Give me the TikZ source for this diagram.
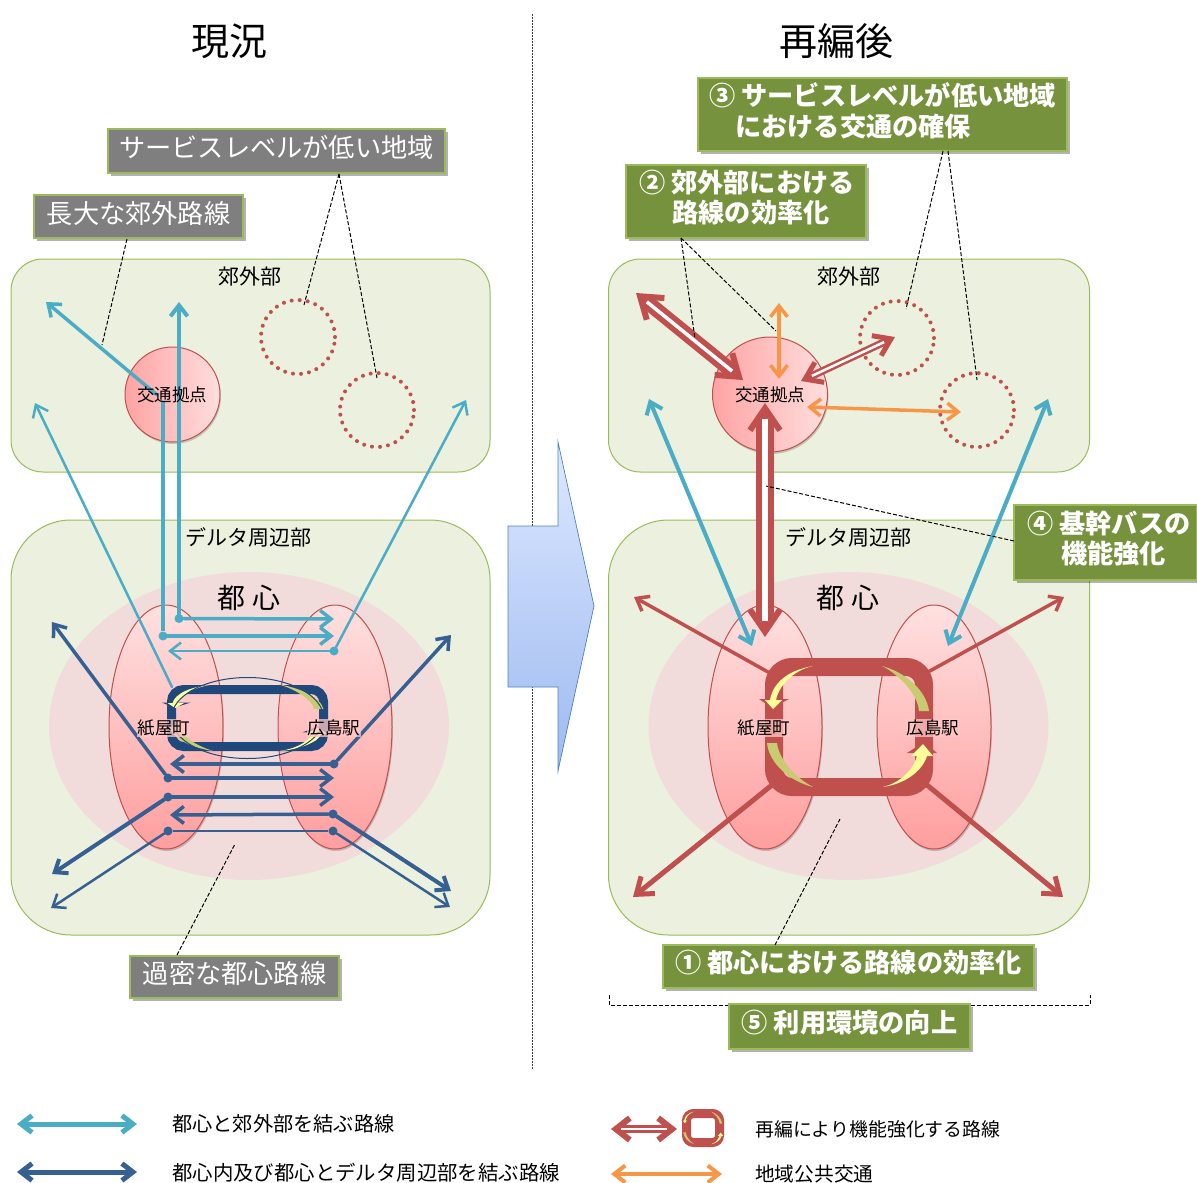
\documentclass[tikz,border=0pt]{standalone}
\usepackage{fontspec}
\setmainfont{Noto Sans CJK JP}
\usetikzlibrary{positioning,arrows.meta,shadows,shapes.geometric}
\definecolor{regionfill}{HTML}{EBF1DE}
\definecolor{regionline}{HTML}{9BBB59}
\definecolor{corefill}{HTML}{F2DCDB}
\definecolor{redline}{HTML}{C0504D}
\definecolor{cyanline}{HTML}{4BACC6}
\definecolor{navyline}{HTML}{376092}
\definecolor{navyloop}{HTML}{1F497D}
\definecolor{orangeline}{HTML}{F79646}
\definecolor{olivebox}{HTML}{76923C}
\definecolor{greybox}{HTML}{7F7F7F}
\definecolor{arcyellow}{HTML}{FFFF99}
\definecolor{arcolive}{HTML}{C9CB70}
\definecolor{bigtop}{HTML}{DDE8FF}
\definecolor{bigbot}{HTML}{9DBAF0}
\definecolor{bigline}{HTML}{4F81BD}
\tikzset{
	softshadow/.style={drop shadow={shadow xshift=2.5pt,shadow yshift=-3pt,fill=black,opacity=0.3}},
	faintshadow/.style={drop shadow={shadow xshift=1pt,shadow yshift=-2pt,fill=black,opacity=0.18}},
	region/.style={draw=regionline,fill=regionfill,line width=1pt,inner sep=0pt},
	station/.style={ellipse,draw=redline,line width=1pt,top color=red!12,bottom color=red!38,minimum width=114pt,minimum height=244pt,inner sep=0pt,faintshadow},
	hub/.style={circle,draw=redline,line width=1pt,left color=red!36,right color=red!13,inner sep=0pt,faintshadow},
	area/.style={circle,draw=redline,line width=4pt,line cap=round,dash pattern=on 0.01pt off 8.05pt,minimum size=74pt,inner sep=0pt},
	greynote/.style={draw=regionline,fill=greybox,line width=1.5pt,text=white,font=\fontsize{26.2}{30}\selectfont,text depth=9pt,inner sep=0pt,softshadow},
	olivenote/.style={draw=regionline,fill=olivebox,line width=1.5pt,text=white,font=\fontsize{26.2}{30.5}\selectfont\bfseries,text depth=10pt,inner sep=0pt,align=center,softshadow},
	stationname/.style={fill=red!22,fill opacity=0.75,text opacity=1,inner sep=1pt,font=\fontsize{17.5}{20}\selectfont},
	place/.style={font=\fontsize{21}{24}\selectfont,inner sep=0pt},
	coretitle/.style={font=\fontsize{28}{30}\selectfont,inner sep=0pt},
	bigtitle/.style={font=\fontsize{38}{42}\selectfont,inner sep=0pt},
	legendtext/.style={anchor=west,inner sep=0pt},
	leader/.style={draw=black,line width=1pt,dash pattern=on 4pt off 2pt},
	bus/.style={-{Straight Barb[length=11pt,width=17pt]},line cap=round},
	busboth/.style={{Straight Barb[length=11pt,width=17pt]}-{Straight Barb[length=11pt,width=17pt]},line cap=round},
	heavybus/.style={-{Straight Barb[length=15pt,width=22pt]},line cap=round},
	twinmain/.style={redline,line width=6pt,{Straight Barb[length=22pt,width=30pt]}-{Straight Barb[length=22pt,width=30pt]}},
	twinbig/.style={redline,line width=6pt,{Straight Barb[length=20pt,width=28pt]}-{Straight Barb[length=20pt,width=28pt]}},
	twinthin/.style={redline,line width=5pt,{Straight Barb[length=16pt,width=22pt]}-{Straight Barb[length=16pt,width=22pt]}},
	twinkey/.style={redline,line width=6pt,{Straight Barb[length=14pt,width=22pt]}-{Straight Barb[length=14pt,width=22pt]}},
	routedot/.style={circle,minimum size=9pt,inner sep=0pt},
	pics/looparcs/.style={code={
		\fill[loophead] (-90,-28) -- (-60,-28) -- (-77,-19) -- cycle;
		\fill[loophead] (58,26) -- (88,26) -- (75,15) -- cycle;
		\fill[arcyellow] (-36,-61) .. controls (-55,-57) and (-70,-42) .. (-73,-27) -- (-67,-27) -- (-76,-18) -- (-84,-27) -- (-79,-27) .. controls (-76,-45) and (-60,-57) .. cycle;
		\fill[arcolive] (33,-61) .. controls (55,-55) and (77,-38) .. (80,-16) -- (70,-16) .. controls (69,-32) and (51,-52) .. cycle;
		\fill[arcolive] (-36,60) .. controls (-60,54) and (-80,36) .. (-82,16) -- (-72,16) .. controls (-70,32) and (-55,50) .. cycle;
		\fill[arcyellow] (34,60) .. controls (50,56) and (64,44) .. (68,29) -- (62,29) -- (74,17) -- (84,29) -- (78,29) .. controls (73,45) and (55,57) .. cycle;
	}},
}
\begin{document}
\begin{tikzpicture}[x=1pt,y=-1pt]
    \useasboundingbox (0,0) rectangle (1197,1183);

    \node[bigtitle] (titlenow) at (229,41) {現況};
    \node[bigtitle] (titleafter) at (836,41) {再編後};
    \coordinate (divtop) at (532,14);
    \coordinate (divbot) at (532,1070);
    \draw[black!75,line width=0.8pt,dash pattern=on 1.5pt off 1.5pt] (divtop) -- (divbot);

    % left side
    \node[region,rounded corners=32pt,minimum width=479pt,minimum height=213pt] (subL) at (250.5,365.5) {};
    \node[region,rounded corners=60pt,minimum width=479pt,minimum height=415pt] (deltaL) at (250.5,727.5) {};
    \node[ellipse,fill=corefill,minimum width=400pt,minimum height=308pt,inner sep=0pt] (coreL) at (249,726) {};
    \node[station] (kamiL) at (166,727) {};
    \node[station] (hiroL) at (335,727) {};
    \node[hub,minimum size=95pt] (hubL) at (172.5,394.5) {};
    \node[area] (areaA) at (298,337) {};
    \node[area] (areaB) at (377,410) {};

    \coordinate (cyanN) at (179,302);
    \coordinate (cyanV) at (163,402);
    \coordinate (cyanNW) at (46,302);
    \coordinate (cyanHub) at (157,395);
    \coordinate (cyanA) at (334,619);
    \coordinate (cyanB) at (334,636);
    \coordinate (cyanC) at (168,651);
    \coordinate (cyanFarL) at (35,403);
    \coordinate (cyanLoop) at (172,687);
    \coordinate (cyanFarR) at (466,400);
    \node[routedot,fill=cyanline] (dotA) at (179,618.5) {};
    \node[routedot,fill=cyanline] (dotB) at (163,636) {};
    \node[routedot,fill=cyanline] (dotC) at (334,651) {};

    \draw[cyanline,line width=3.5pt,bus] (cyanHub) -- (cyanNW);
    \draw[cyanline,line width=4pt,bus] (dotA) -- (cyanN);
    \draw[cyanline,line width=3.5pt,bus] (dotA) -- (cyanA);
    \draw[cyanline,line width=4pt] (cyanV) -- (dotB);
    \draw[cyanline,line width=3.5pt,bus] (dotB) -- (cyanB);
    \draw[cyanline,line width=2.5pt,bus] (dotC) -- (cyanC);
    \draw[cyanline,line width=2.5pt,bus] (dotC) -- (cyanFarR);
    \draw[cyanline,line width=2.5pt,bus] (cyanLoop) -- (cyanFarL);

    \colorlet{loophead}{navyloop}
    \node[draw=navyloop,line width=9pt,rounded corners=12pt,minimum width=152pt,minimum height=57pt,inner sep=0pt] (loopL) at (247.5,718) {};
    \pic[xshift=247.5pt,yshift=-718pt,xscale=0.95,yscale=0.55] {looparcs};
    \node[ellipse,draw=navyloop,line width=1pt,minimum width=152pt,minimum height=81pt,inner sep=0pt] (ringL) at (247.5,718) {};

    \coordinate (navyNW) at (52,622);
    \coordinate (navyNE) at (451,635);
    \coordinate (navyW) at (52,874);
    \coordinate (navySE) at (451,891);
    \coordinate (navyWW) at (51,908);
    \coordinate (navySSE) at (450,907);
    \coordinate (navyBa) at (170,764);
    \coordinate (navyAa) at (334,778);
    \coordinate (navyCa) at (334,797);
    \coordinate (navyDa) at (170,815);
    \node[routedot,fill=navyline] (dotE) at (334,764) {};
    \node[routedot,fill=navyline] (dotF) at (168,778) {};
    \node[routedot,fill=navyline] (dotG) at (168,797) {};
    \node[routedot,fill=navyline] (dotH) at (333,814) {};
    \node[routedot,fill=navyline] (dotI) at (168,831) {};
    \node[routedot,fill=navyline] (dotJ) at (333,831) {};

    \draw[navyline,line width=3.5pt,bus] (dotF) -- (navyNW);
    \draw[navyline,line width=3.5pt,bus] (dotF) -- (navyAa);
    \draw[navyline,line width=3.5pt,bus] (dotE) -- (navyBa);
    \draw[navyline,line width=3.5pt,bus] (dotE) -- (navyNE);
    \draw[navyline,line width=3.5pt,bus] (dotG) -- (navyCa);
    \draw[navyline,line width=4pt,bus] (dotG) -- (navyW);
    \draw[navyline,line width=3.5pt,bus] (dotH) -- (navyDa);
    \draw[navyline,line width=4pt,bus] (dotH) -- (navySE);
    \draw[navyline,line width=2.5pt] (dotI) -- (dotJ);
    \draw[navyline,line width=2.5pt,bus] (dotI) -- (navyWW);
    \draw[navyline,line width=2.5pt,bus] (dotJ) -- (navySSE);

    \node[place] (subNameL) at (249.5,277) {郊外部};
    \node[place] (deltaNameL) at (248.5,537) {デルタ周辺部};
    \node[coretitle] (coreNameL) at (249,598) {都 心};
    \node[stationname] (kamiNameL) at (164,728) {紙屋町};
    \node[stationname] (hiroNameL) at (334,728) {広島駅};
    \node[font=\fontsize{17.5}{20}\selectfont,inner sep=0pt] (hubNameL) at (172,395) {交通拠点};

    \node[greynote,minimum width=337pt,minimum height=44pt] (noteLow) at (276.5,151) {サービスレベルが低い地域};
    \node[greynote,minimum width=209pt,minimum height=43pt] (noteLong) at (138.5,216.5) {長大な郊外路線};
    \node[greynote,minimum width=209pt,minimum height=42pt] (noteDense) at (234.5,977) {過密な都心路線};

    \coordinate (leadA) at (304,305);
    \coordinate (leadB) at (377,378);
    \coordinate (leadC) at (102,345);
    \coordinate (leadD) at (235,844);
    \coordinate (footLow) at (339,174);
    \coordinate (footLong) at (127,239);
    \coordinate (footDense) at (177,955);
    \draw[leader] (footLow) -- (leadA);
    \draw[leader] (footLow) -- (leadB);
    \draw[leader] (footLong) -- (leadC);
    \draw[leader] (footDense) -- (leadD);

    % big arrow
    \path[draw=bigline,line width=0.7pt,top color=bigtop,bottom color=bigbot] (508,526) -- (558,526) -- (558,442) -- (594,606) -- (558,771) -- (558,687) -- (508,687) -- cycle;

    % right side
    \node[region,rounded corners=32pt,minimum width=481pt,minimum height=213pt] (subR) at (849,365.5) {};
    \node[region,rounded corners=60pt,minimum width=481pt,minimum height=415pt] (deltaR) at (849,727.5) {};
    \node[ellipse,fill=corefill,minimum width=400pt,minimum height=308pt,inner sep=0pt] (coreR) at (848.5,726) {};
    \node[station] (kamiR) at (765,727) {};
    \node[station] (hiroR) at (934,727) {};
    \node[hub,minimum size=115pt] (hubR) at (770,394.5) {};
    \node[area] (areaC) at (897,338) {};
    \node[area] (areaD) at (977,410) {};

    \colorlet{loophead}{redline}
    \node[draw=redline,line width=18pt,rounded corners=18pt,minimum width=150pt,minimum height=120pt,inner sep=0pt] (loopR) at (849,727) {};
    \pic[xshift=849pt,yshift=-727pt] {looparcs};

    \coordinate (redNW) at (634,597);
    \coordinate (redNE) at (1064,597);
    \coordinate (redSW) at (633,897);
    \coordinate (redSE) at (1063,897);
    \coordinate (loopNW) at (768,672);
    \coordinate (loopNE) at (928,672);
    \coordinate (loopSW) at (772,785);
    \coordinate (loopSE) at (927,785);
    \draw[redline,line width=3.5pt,bus] (loopNW) -- (redNW);
    \draw[redline,line width=3.5pt,bus] (loopNE) -- (redNE);
    \draw[redline,line width=5pt,heavybus] (loopSW) -- (redSW);
    \draw[redline,line width=5pt,heavybus] (loopSE) -- (redSE);

    \coordinate (mainTop) at (765,403);
    \coordinate (mainBot) at (765,637);
    \coordinate (bigNW) at (636,293);
    \coordinate (bigHub) at (743,380);
    \coordinate (thinNE) at (895,337);
    \coordinate (thinHub) at (801,381);
    \draw[twinmain] (mainTop) -- (mainBot);
    \draw[redline,double=white,line width=6pt,double distance=6pt,shorten <=16pt,shorten >=16pt] (mainTop) -- (mainBot);
    \draw[twinbig] (bigNW) -- (bigHub);
    \draw[redline,double=white,line width=5.5pt,double distance=3.5pt,shorten <=14pt,shorten >=14pt] (bigNW) -- (bigHub);
    \draw[twinthin] (thinHub) -- (thinNE);
    \draw[redline,double=white,line width=2.5pt,double distance=2.5pt,shorten <=12pt,shorten >=12pt] (thinHub) -- (thinNE);

    \coordinate (orangeTop) at (779,303);
    \coordinate (orangeBot) at (779,379);
    \coordinate (orangeHub) at (807,407);
    \coordinate (orangeFar) at (961,412);
    \draw[orangeline,line width=3.5pt,busboth] (orangeTop) -- (orangeBot);
    \draw[orangeline,line width=3.5pt,busboth] (orangeHub) -- (orangeFar);

    \coordinate (cyanLeftTop) at (649,399);
    \coordinate (cyanLeftBot) at (752,646);
    \coordinate (cyanRightTop) at (1048,399);
    \coordinate (cyanRightBot) at (948,646);
    \draw[cyanline,line width=4pt,busboth] (cyanLeftTop) -- (cyanLeftBot);
    \draw[cyanline,line width=4pt,busboth] (cyanRightTop) -- (cyanRightBot);

    \node[place] (subNameR) at (848.5,277) {郊外部};
    \node[place] (deltaNameR) at (848,537) {デルタ周辺部};
    \node[coretitle] (coreNameR) at (848,598) {都 心};
    \node[stationname] (kamiNameR) at (764,728) {紙屋町};
    \node[stationname] (hiroNameR) at (933,728) {広島駅};
    \node[font=\fontsize{17.5}{20}\selectfont,inner sep=0pt] (hubNameR) at (770,395) {交通拠点};

    \node[olivenote,minimum width=369pt,minimum height=73pt,align=left] (noteThree) at (882.5,114.5) {③ サービスレベルが低い地域\\\hspace*{26pt}における交通の確保};
    \node[olivenote,minimum width=240pt,minimum height=73pt] (noteTwo) at (746,201.5) {\hspace*{2pt}② 郊外部における\\\hspace*{10pt}路線の効率化};
    \node[olivenote,minimum width=183pt,minimum height=75pt] (noteFour) at (1105.5,542.5) {\hspace*{7pt}④ 基幹バスの\\\hspace*{16pt}機能強化};
    \node[olivenote,minimum width=371pt,minimum height=43pt] (noteOne) at (848.5,966.5) {① 都心における路線の効率化};

    \coordinate (bracketA) at (609,995);
    \coordinate (bracketB) at (1090,995);
    \draw[leader] (bracketA) -- ++(0,10) -| (bracketB);
    \node[olivenote,minimum width=241pt,minimum height=45pt] (noteFive) at (849.5,1026.5) {⑤ 利用環境の向上};

    \coordinate (leadE) at (695,339);
    \coordinate (leadF) at (776,331);
    \coordinate (leadG) at (906,309);
    \coordinate (leadH) at (977,380);
    \coordinate (leadI) at (766,486);
    \coordinate (leadJ) at (840,819);
    \coordinate (footTwo) at (681,238);
    \coordinate (footThreeA) at (943,151);
    \coordinate (footThreeB) at (948,151);
    \coordinate (footFour) at (1014,541);
    \coordinate (footOne) at (775,945);
    \draw[leader] (footTwo) -- (leadE);
    \draw[leader] (footTwo) -- (leadF);
    \draw[leader] (footThreeA) -- (leadG);
    \draw[leader] (footThreeB) -- (leadH);
    \draw[leader] (footFour) -- (leadI);
    \draw[leader] (footOne) -- (leadJ);

    % legend
    \coordinate (keyCyanA) at (17,1124);
    \coordinate (keyCyanB) at (137,1124);
    \coordinate (keyNavyA) at (17,1172);
    \coordinate (keyNavyB) at (137,1172);
    \coordinate (keyRedA) at (611,1129);
    \coordinate (keyRedB) at (677,1129);
    \coordinate (keyOrangeA) at (611,1174);
    \coordinate (keyOrangeB) at (722,1174);
    \draw[cyanline,line width=5pt,busboth] (keyCyanA) -- (keyCyanB);
    \draw[navyline,line width=5pt,busboth] (keyNavyA) -- (keyNavyB);
    \draw[twinkey] (keyRedA) -- (keyRedB);
    \draw[redline,double=white,line width=3pt,double distance=2.5pt,shorten <=10pt,shorten >=10pt] (keyRedA) -- (keyRedB);
    \draw[orangeline,line width=4pt,busboth] (keyOrangeA) -- (keyOrangeB);
    \node[draw=redline,fill=white,line width=9pt,rounded corners=7pt,minimum width=33pt,minimum height=29pt,inner sep=0pt] (keyLoop) at (703,1128) {};
    \pic[xshift=703pt,yshift=-1128pt,xscale=0.24,yscale=0.27] {looparcs};

    \node[legendtext,font=\fontsize{20.2}{24}\selectfont] (keyTextA) at (172,1124) {都心と郊外部を結ぶ路線};
    \node[legendtext,font=\fontsize{20.4}{24}\selectfont] (keyTextB) at (172,1173) {都心内及び都心とデルタ周辺部を結ぶ路線};
    \node[legendtext,font=\fontsize{18.9}{24}\selectfont] (keyTextC) at (755,1129) {再編により機能強化する路線};
    \node[legendtext,font=\fontsize{19.7}{24}\selectfont] (keyTextD) at (755,1174) {地域公共交通};
\end{tikzpicture}
\end{document}
